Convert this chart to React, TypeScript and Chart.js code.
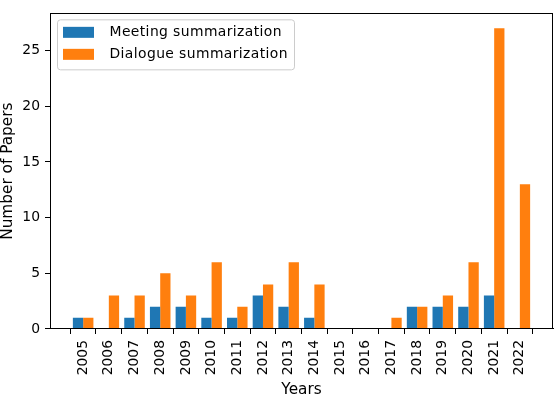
import React, { useEffect, useRef } from "react";
import { Chart, registerables } from "chart.js";

Chart.register(...registerables);

const years = [2005, 2006, 2007, 2008, 2009, 2010, 2011, 2012, 2013, 2014, 2015, 2016, 2017, 2018, 2019, 2020, 2021, 2022];
const meeting = [1, 0, 1, 2, 2, 1, 1, 3, 2, 1, 0, 0, 0, 2, 2, 2, 3, 0];
const dialogue = [1, 3, 3, 5, 3, 6, 2, 4, 6, 4, 0, 0, 1, 2, 3, 6, 27, 13];
const yTicks = [0, 5, 10, 15, 20, 25];
const seriesNames = ["Meeting summarization", "Dialogue summarization"];
const seriesColors = ["#1f77b4", "#ff7f0e"];

const FONT = "DejaVu Sans";
const FS = 13.9;
const TFS = 15.3;

Chart.defaults.font.family = FONT;
Chart.defaults.font.size = FS;
Chart.defaults.color = "#000";

const framePlugin = {
  id: "frame",
  afterDraw(chart: any) {
    const { ctx, chartArea: a } = chart;
    ctx.save();
    ctx.strokeStyle = "#000";
    ctx.lineWidth = 1;
    ctx.strokeRect(Math.round(a.left) + 0.5, Math.round(a.top) + 0.5, Math.round(a.right - a.left) - 1, Math.round(a.bottom - a.top) - 1);

    // legend
    const lx = a.left + 7.5;
    const ly = a.top + 6.5;
    const lw = 237;
    const lh = 50;
    const r = 3;
    ctx.beginPath();
    ctx.moveTo(lx + r, ly);
    ctx.lineTo(lx + lw - r, ly);
    ctx.arcTo(lx + lw, ly, lx + lw, ly + r, r);
    ctx.lineTo(lx + lw, ly + lh - r);
    ctx.arcTo(lx + lw, ly + lh, lx + lw - r, ly + lh, r);
    ctx.lineTo(lx + r, ly + lh);
    ctx.arcTo(lx, ly + lh, lx, ly + lh - r, r);
    ctx.lineTo(lx, ly + r);
    ctx.arcTo(lx, ly, lx + r, ly, r);
    ctx.closePath();
    ctx.fillStyle = "rgba(255,255,255,0.8)";
    ctx.fill();
    ctx.strokeStyle = "#cccccc";
    ctx.stroke();

    ctx.font = `${FS}px "${FONT}"`;
    try {
      (ctx as any).letterSpacing = "0.4px";
    } catch (e) {}
    ctx.textBaseline = "middle";
    ctx.textAlign = "left";
    chart.data.datasets.forEach((ds: any, i: number) => {
      const cy = a.top + 19 + i * 22;
      ctx.fillStyle = ds.backgroundColor;
      ctx.fillRect(a.left + 13, cy - 5.5, 31, 11);
      ctx.fillStyle = "#000";
      ctx.fillText(ds.label, a.left + 59.5, cy + 0.5);
    });
    ctx.restore();
  },
};

export default function App() {
  const ref = useRef<HTMLCanvasElement | null>(null);

  useEffect(() => {
    document.body.style.margin = "0";
    const canvas = ref.current!;
    const chart = new Chart(canvas, {
      type: "bar",
      data: {
        datasets: [
          {
            label: seriesNames[0],
            data: years.map((y, i) => ({ x: y, y: meeting[i] })),
            backgroundColor: seriesColors[0],
            borderWidth: 0,
          },
          {
            label: seriesNames[1],
            data: years.map((y, i) => ({ x: y, y: dialogue[i] })),
            backgroundColor: seriesColors[1],
            borderWidth: 0,
          },
        ],
      },
      options: {
        responsive: false,
        animation: false,
        devicePixelRatio: 1,
        layout: { padding: { left: 0, right: 1, top: 4, bottom: 0 } },
        datasets: { bar: { categoryPercentage: 0.8, barPercentage: 1.0 } } as any,
        plugins: {
          legend: { display: false },
          tooltip: { enabled: false },
        },
        scales: {
          x: {
            type: "linear",
            min: 2003.71,
            max: 2023.29,
            offset: false,
            afterBuildTicks: (s: any) => {
              s.ticks = years.map((v) => ({ value: v }));
            },
            afterFit: (s: any) => {
              s.height = 67;
            },
            grid: {
              display: true,
              drawOnChartArea: false,
              drawTicks: true,
              tickLength: 5,
              tickColor: "#000",
              tickWidth: 1,
            },
            border: { display: true, color: "#000", width: 1 },
            ticks: {
              autoSkip: false,
              minRotation: 90,
              maxRotation: 90,
              padding: 6,
              color: "#000",
              font: { family: FONT, size: FS },
              callback: (v: any) => String(v),
            },
            title: {
              display: true,
              text: "Years",
              color: "#000",
              font: { family: FONT, size: TFS, lineHeight: 1.1 },
              padding: { top: 0, bottom: -2 },
            },
          },
          y: {
            min: 0,
            max: 28.35,
            afterBuildTicks: (s: any) => {
              s.ticks = yTicks.map((v) => ({ value: v }));
            },
            afterFit: (s: any) => {
              s.width = 50;
            },
            grid: {
              display: true,
              drawOnChartArea: false,
              drawTicks: true,
              tickLength: 5,
              tickColor: "#000",
              tickWidth: 1,
            },
            border: { display: true, color: "#000", width: 1 },
            ticks: {
              padding: 5,
              color: "#000",
              font: { family: FONT, size: FS },
            },
            title: {
              display: true,
              text: "Number of Papers",
              color: "#000",
              font: { family: FONT, size: TFS, lineHeight: 1.1 },
              padding: { top: 0, bottom: 0 },
            },
          },
        },
      },
      plugins: [framePlugin],
    });
    return () => chart.destroy();
  }, []);

  return (
    <div style={{ position: "absolute", left: 0, top: 0, width: 554, height: 396 }}>
      <canvas ref={ref} width={554} height={396} style={{ width: 554, height: 396 }} />
    </div>
  );
}
